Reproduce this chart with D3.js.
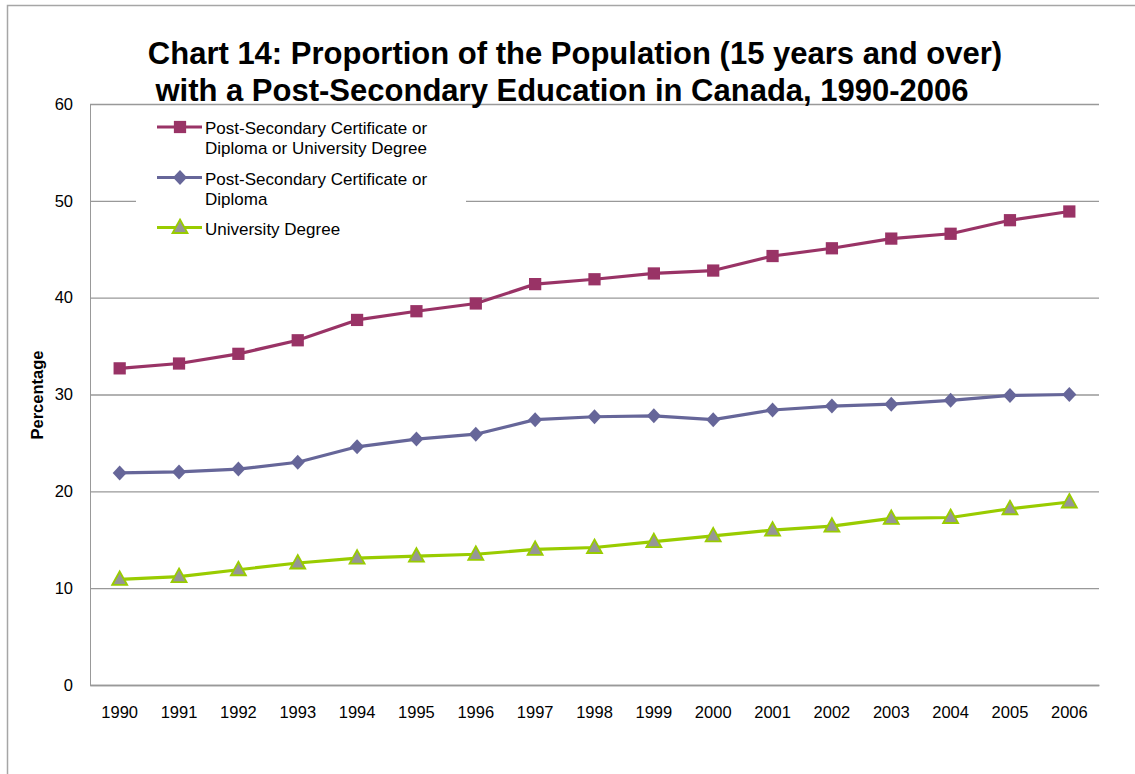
<!DOCTYPE html>
<html>
<head>
<meta charset="utf-8">
<script src="https://cdn.jsdelivr.net/npm/d3@7"></script>
<style>
  html, body { margin: 0; padding: 0; background: #fff; }
  svg { display: block; font-family: "Liberation Sans", Arial, sans-serif; }
</style>
</head>
<body>
<svg id="chart" width="1135" height="774"></svg>
<script>
// Survey years
const years = ["1990","1991","1992","1993","1994","1995","1996","1997","1998",
               "1999","2000","2001","2002","2003","2004","2005","2006"];

// Share of population aged 15+ (%)
const postSecondaryAll = [32.7, 33.2, 34.2, 35.6, 37.7, 38.6, 39.4, 41.4, 41.9,
                          42.5, 42.8, 44.3, 45.1, 46.1, 46.6, 48.0, 48.9];
const certificateDiploma = [21.9, 22.0, 22.3, 23.0, 24.6, 25.4, 25.9, 27.4, 27.7,
                            27.8, 27.4, 28.4, 28.8, 29.0, 29.4, 29.9, 30.0];
const universityDegree = [10.9, 11.2, 11.9, 12.6, 13.1, 13.3, 13.5, 14.0, 14.2,
                          14.8, 15.4, 16.0, 16.4, 17.2, 17.3, 18.2, 18.9];

const yTicks = [0, 10, 20, 30, 40, 50, 60];

const seriesNames = [
  ["Post-Secondary Certificate or", "Diploma or University Degree"],
  ["Post-Secondary Certificate or", "Diploma"],
  ["University Degree"]
];

const series = [
  { name: seriesNames[0], values: postSecondaryAll,   line: "#993366", fill: "#993366", marker: "square" },
  { name: seriesNames[1], values: certificateDiploma, line: "#666699", fill: "#666699", marker: "diamond" },
  { name: seriesNames[2], values: universityDegree,   line: "#99CC00", fill: "#969696", marker: "triangle" }
];

const FONT = "'Liberation Sans', Arial, sans-serif";
const svg = d3.select("#chart");
const plot = { left: 90, right: 1099, top: 104, bottom: 685 };

// Outer chart frame (top and left edges)
svg.append("path")
  .attr("d", "M7.5,800 V5.5 H1135")
  .attr("fill", "none")
  .attr("stroke", "#a6a6a6")
  .attr("stroke-width", 1.5);

const x = d3.scaleBand().domain(years).range([plot.left, plot.right]);
const y = d3.scaleLinear().domain([0, 60]).range([plot.bottom, plot.top]);

// Horizontal gridlines and value labels
const yAxis = d3.axisLeft(y).tickValues(yTicks).tickSize(-(plot.right - plot.left)).tickPadding(17);
const gy = svg.append("g").attr("transform", `translate(${plot.left},0)`).call(yAxis);
gy.select(".domain").attr("stroke", "#999").attr("stroke-width", 1);
gy.selectAll(".tick line").attr("stroke", "#999").attr("stroke-width", 1.3);
gy.selectAll(".tick text")
  .attr("fill", "#000")
  .style("font-size", "16.5px")
  .style("font-family", FONT);

// Category axis
const xAxis = d3.axisBottom(x).tickSize(0).tickPadding(21);
const gx = svg.append("g").attr("transform", `translate(0,${plot.bottom})`).call(xAxis);
gx.select(".domain").attr("stroke", "#999").attr("stroke-width", 1.5);
gx.selectAll(".tick text")
  .attr("fill", "#000")
  .style("font-size", "16.5px")
  .style("font-family", FONT);

// Y axis title
svg.append("text")
  .attr("transform", `translate(43,395) rotate(-90)`)
  .attr("text-anchor", "middle")
  .style("font-size", "16.5px")
  .style("font-weight", "bold")
  .text("Percentage");

// Chart title
const title = svg.append("text")
  .attr("text-anchor", "middle")
  .style("font-size", "31px")
  .style("font-weight", "bold");
title.append("tspan").attr("x", 575).attr("y", 64)
  .text("Chart 14: Proportion of the Population (15 years and over)");
title.append("tspan").attr("x", 562).attr("y", 101)
  .text("with a Post-Secondary Education in Canada, 1990-2006");

// Marker shapes
const markerPath = {
  square:   d3.symbol().type(d3.symbolSquare).size(150)(),
  diamond:  "M0,-7.5 L7,0 L0,7.5 L-7,0 Z",
  triangle: "M0,-8 L7.5,5.5 L-7.5,5.5 Z"
};

const line = d3.line()
  .x((d, i) => x(years[i]) + x.bandwidth() / 2)
  .y(d => y(d));

// Legend backing covers the gridline behind it
svg.append("rect")
  .attr("x", 136).attr("y", 106).attr("width", 330).attr("height", 138)
  .attr("fill", "#fff");

series.forEach(s => {
  svg.append("path")
    .datum(s.values)
    .attr("fill", "none")
    .attr("stroke", s.line)
    .attr("stroke-width", 3.2)
    .attr("stroke-linejoin", "round")
    .attr("d", line);

  svg.append("g").selectAll("path")
    .data(s.values)
    .join("path")
    .attr("transform", (d, i) => `translate(${x(years[i]) + x.bandwidth() / 2},${y(d)})`)
    .attr("d", markerPath[s.marker])
    .attr("fill", s.fill)
    .attr("stroke", s.marker === "triangle" ? s.line : "none")
    .attr("stroke-width", 1.8);
});

// Legend
const legendRows = [127, 177.5, 227.5];
series.forEach((s, i) => {
  const g = svg.append("g").attr("transform", `translate(0,${legendRows[i]})`);
  g.append("line")
    .attr("x1", 157).attr("x2", 202).attr("y1", 0).attr("y2", 0)
    .attr("stroke", s.line).attr("stroke-width", 3.2);
  g.append("path")
    .attr("transform", "translate(180,0)")
    .attr("d", markerPath[s.marker])
    .attr("fill", s.fill)
    .attr("stroke", s.marker === "triangle" ? s.line : "none")
    .attr("stroke-width", 1.8);
  const t = g.append("text").style("font-size", "17px").attr("fill", "#000");
  s.name.forEach((ln, j) => {
    t.append("tspan").attr("x", 205).attr("y", 7 + j * 20).text(ln);
  });
});
</script>
</body>
</html>
